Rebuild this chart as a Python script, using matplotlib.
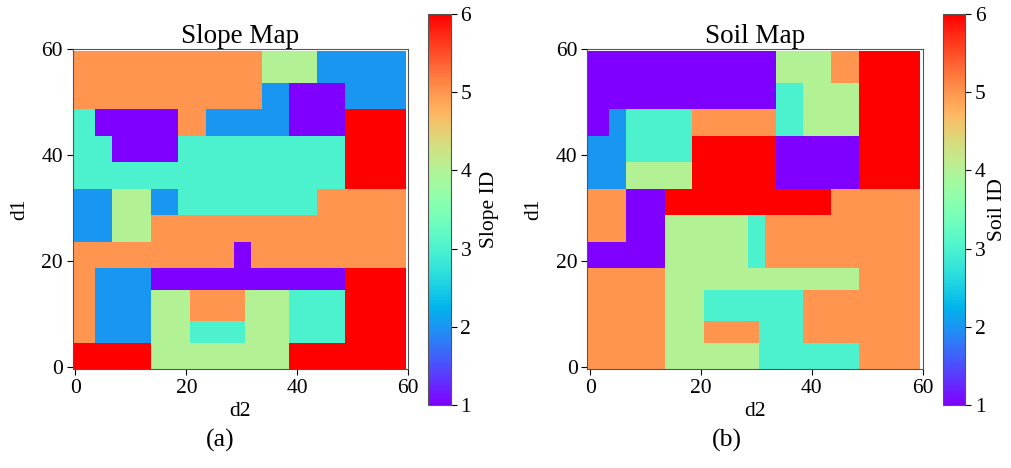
import numpy as np
import matplotlib
matplotlib.use("Agg")
import matplotlib.pyplot as plt

plt.rcParams['font.family'] = ['Liberation Serif', 'DejaVu Serif']

# Row bands (grid rows, bottom to top); each band lists (end column, class id)
row_edges = [0, 5, 9, 15, 19, 24, 29, 34, 39, 44, 49, 54, 60]

slope_bands = [
    [(14, 6), (39, 4), (60, 6)],
    [(4, 5), (14, 2), (21, 4), (31, 3), (39, 4), (49, 3), (60, 6)],
    [(4, 5), (14, 2), (21, 4), (31, 5), (39, 4), (49, 3), (60, 6)],
    [(4, 5), (14, 2), (49, 1), (60, 6)],
    [(29, 5), (32, 1), (60, 5)],
    [(7, 2), (14, 4), (60, 5)],
    [(7, 2), (14, 4), (19, 2), (44, 3), (60, 5)],
    [(49, 3), (60, 6)],
    [(7, 3), (19, 1), (49, 3), (60, 6)],
    [(4, 3), (19, 1), (24, 5), (39, 2), (49, 1), (60, 6)],
    [(34, 5), (39, 2), (49, 1), (60, 2)],
    [(34, 5), (44, 4), (60, 2)],
]

soil_bands = [
    [(14, 5), (31, 4), (49, 3), (60, 5)],
    [(14, 5), (21, 4), (31, 5), (39, 3), (60, 5)],
    [(14, 5), (21, 4), (39, 3), (60, 5)],
    [(14, 5), (49, 4), (60, 5)],
    [(14, 1), (29, 4), (32, 3), (60, 5)],
    [(7, 5), (14, 1), (29, 4), (32, 3), (60, 5)],
    [(7, 5), (14, 1), (44, 6), (60, 5)],
    [(7, 2), (19, 4), (34, 6), (49, 1), (60, 6)],
    [(7, 2), (19, 3), (34, 6), (49, 1), (60, 6)],
    [(4, 1), (7, 2), (19, 3), (34, 5), (39, 3), (49, 4), (60, 6)],
    [(34, 1), (39, 3), (49, 4), (60, 6)],
    [(34, 1), (44, 4), (49, 5), (60, 6)],
]

ticks = [0, 20, 40, 60]
cbar_ticks = [1, 2, 3, 4, 5, 6]


def build_grid(bands):
    n = row_edges[-1]
    grid = np.zeros((n, n))
    for i, band in enumerate(bands):
        r0, r1 = row_edges[i], row_edges[i + 1]
        c0 = 0
        for c1, v in band:
            grid[r0:r1, c0:c1] = v
            c0 = c1
    return grid


W, H = 1011, 468
fig = plt.figure(figsize=(W / 100, H / 100), dpi=100)


def px(x0, y0, x1, y1):
    return [x0 / W, 1 - y1 / H, (x1 - x0) / W, (y1 - y0) / H]


panels = [
    (slope_bands, "Slope Map", "Slope ID", "(a)", 72.7, 408.0, 428.3, 450.7, 220, 6),
    (soil_bands, "Soil Map", "Soil ID", "(b)", 587.3, 922.7, 942.7, 965.1, 727, 2),
]

for bands, title, clabel, tag, ax0, ax1, cx0, cx1, tagx, cpad in panels:
    ax = fig.add_axes(px(ax0, 49.3, ax1, 369.3))
    grid = build_grid(bands)
    im = ax.imshow(grid, cmap="rainbow", vmin=1, vmax=6, origin="lower",
                   aspect="auto", interpolation="nearest")
    ax.set_xlim(-0.5, 60)
    ax.set_ylim(-0.5, 60)
    ax.set_xticks(ticks)
    ax.set_yticks(ticks)
    ax.tick_params(labelsize=15.5, length=4, width=0.8, pad=3)
    ax.set_title(title, fontsize=19.5, pad=3)
    ax.set_xlabel("d2", fontsize=15.5, labelpad=3)
    ax.set_ylabel("d1", fontsize=15.5, labelpad=9)
    for s in ax.spines.values():
        s.set_linewidth(0.8)
        s.set_color("#555555")

    cax = fig.add_axes(px(cx0, 14, cx1, 405))
    cb = fig.colorbar(im, cax=cax, ticks=cbar_ticks)
    cb.ax.tick_params(labelsize=15.5, length=4, width=0.8, pad=3)
    cb.set_label(clabel, fontsize=15.5, labelpad=cpad)
    cb.outline.set_linewidth(0.8)
    cb.outline.set_edgecolor("#555555")

    fig.text(tagx / W, 1 - 440 / H, tag, fontsize=18.5, ha="center", va="center")

fig.savefig("out.png", dpi=100)
